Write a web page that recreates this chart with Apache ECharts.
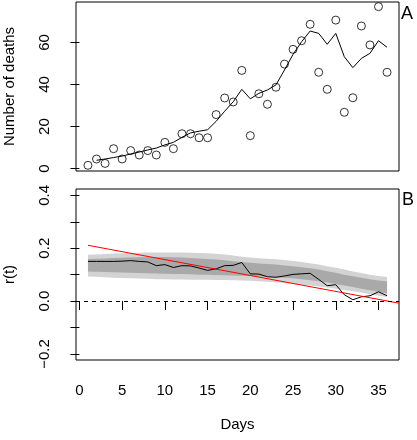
<!DOCTYPE html>
<html><head><meta charset="utf-8">
<script src="https://cdn.jsdelivr.net/npm/echarts@6/dist/echarts.min.js"></script>
<style>html,body{margin:0;padding:0;background:#fff}#c{width:417px;height:440px}</style>
</head><body><div id="c"></div>
<script>
const days = [1,2,3,4,5,6,7,8,9,10,11,12,13,14,15,16,17,18,19,20,21,22,23,24,25,26,27,28,29,30,31,32,33,34,35,36];
const deaths = [1.6,4.6,2.5,9.5,4.6,8.6,6.5,8.6,6.5,12.5,9.5,16.6,16.6,14.7,14.7,25.7,33.6,31.7,46.7,15.7,35.6,30.6,38.7,49.7,56.7,60.8,68.6,45.8,37.7,70.6,26.8,33.7,67.8,58.8,77.0,45.8];
const fitted = [null,4.0,4.6,5.3,6.0,7.0,7.9,8.9,9.8,11.3,12.5,14.9,17.0,17.8,18.5,22.5,27.3,31.8,37.7,33.2,35.8,37.4,39.8,46.9,54.3,60.3,65.4,64.3,59.1,64.3,53.2,48.0,52.4,54.8,60.8,57.7];
const rt = [0.150,0.150,0.150,0.150,0.151,0.153,0.150,0.148,0.134,0.138,0.127,0.134,0.133,0.125,0.116,0.122,0.134,0.135,0.146,0.103,0.102,0.092,0.090,0.095,0.101,0.103,0.105,0.082,0.058,0.062,0.024,0.005,0.016,0.020,0.035,0.020];
const hi95 = [0.175,0.176,0.178,0.180,0.181,0.182,0.183,0.184,0.184,0.184,0.184,0.184,0.183,0.182,0.181,0.179,0.176,0.172,0.168,0.165,0.162,0.160,0.158,0.155,0.152,0.148,0.143,0.138,0.132,0.126,0.119,0.112,0.106,0.100,0.095,0.091];
const hi50 = [0.159,0.160,0.161,0.163,0.164,0.165,0.166,0.167,0.167,0.167,0.166,0.165,0.163,0.161,0.159,0.157,0.154,0.151,0.148,0.145,0.142,0.140,0.138,0.135,0.132,0.128,0.124,0.119,0.113,0.107,0.100,0.094,0.088,0.083,0.078,0.074];
const lo50 = [0.112,0.111,0.110,0.109,0.108,0.107,0.106,0.105,0.104,0.103,0.102,0.102,0.101,0.100,0.100,0.099,0.098,0.097,0.096,0.095,0.093,0.092,0.090,0.088,0.086,0.083,0.079,0.075,0.070,0.065,0.059,0.053,0.047,0.041,0.035,0.030];
const lo95 = [0.093,0.092,0.090,0.088,0.087,0.086,0.085,0.084,0.083,0.083,0.082,0.082,0.081,0.081,0.081,0.080,0.080,0.079,0.078,0.077,0.075,0.073,0.071,0.068,0.065,0.062,0.059,0.055,0.051,0.047,0.042,0.037,0.032,0.026,0.020,0.015];
const trendDays = [1, 37.4];
const trendR = [0.211, -0.008];
const xTicks = [0,5,10,15,20,25,30,35];
const yTopTicks = [0,20,40,60];
const yBotTicks = [-0.2,-0.1,0,0.1,0.2,0.3,0.4];
const yBotLabels = [-0.2,0,0.2,0.4];

const FONT = '"Liberation Sans", Arial, Helvetica, sans-serif';
const FS = 15;
const pairs = (xs, ys) => xs.map((x, i) => [x, ys[i]]);

function band(lo, hi, color) {
  return {
    type: 'custom', xAxisIndex: 1, yAxisIndex: 1, silent: true, z: 1,
    data: [[days[0], lo[0]]],
    renderItem: function (params, api) {
      const pts = [];
      for (let i = 0; i < days.length; i++) pts.push(api.coord([days[i], hi[i]]));
      for (let i = days.length - 1; i >= 0; i--) pts.push(api.coord([days[i], lo[i]]));
      return { type: 'polygon', shape: { points: pts }, style: { fill: color, stroke: null } };
    }
  };
}

const chart = echarts.init(document.getElementById('c'), null, { renderer: 'canvas' });
chart.setOption({
  animation: false,
  backgroundColor: '#fff',
  textStyle: { fontFamily: FONT },
  grid: [
    { left: 76, top: 2, width: 323, height: 169, show: true, borderColor: '#000', borderWidth: 1, backgroundColor: 'transparent', containLabel: false, outerBoundsMode: 'none' },
    { left: 76, top: 189, width: 323, height: 171, show: true, borderColor: '#000', borderWidth: 1, backgroundColor: 'transparent', containLabel: false, outerBoundsMode: 'none' }
  ],
  xAxis: [
    { type: 'value', gridIndex: 0, min: -0.4, max: 37.4, axisLine: { show: false }, axisTick: { show: false }, axisLabel: { show: false }, splitLine: { show: false } },
    { type: 'value', gridIndex: 1, min: -0.4, max: 37.4,
      name: 'Days', nameLocation: 'middle', nameGap: 57,
      nameTextStyle: { color: '#000', fontSize: FS, fontFamily: FONT },
      axisLine: { show: false },
      axisTick: { show: true, customValues: xTicks, length: 9, lineStyle: { color: '#000', width: 1 } },
      axisLabel: { show: true, customValues: xTicks, margin: 23, color: '#000', fontSize: FS, fontFamily: FONT },
      splitLine: { show: false } }
  ],
  yAxis: [
    { type: 'value', gridIndex: 0, min: -1.1, max: 79.2,
      name: 'Number of deaths', nameLocation: 'middle', nameGap: 59, nameRotate: 90,
      nameTextStyle: { color: '#000', fontSize: FS, fontFamily: FONT },
      axisLine: { show: false },
      axisTick: { show: true, customValues: yTopTicks, length: 9, lineStyle: { color: '#000', width: 1 } },
      axisLabel: { show: true, customValues: yTopTicks, rotate: 90, margin: 24, color: '#000', fontSize: FS, fontFamily: FONT },
      splitLine: { show: false } },
    { type: 'value', gridIndex: 1, min: -0.223, max: 0.424,
      name: 'r(t)', nameLocation: 'middle', nameGap: 59, nameRotate: 90,
      nameTextStyle: { color: '#000', fontSize: FS, fontFamily: FONT },
      axisLine: { show: false },
      axisTick: { show: true, customValues: yBotTicks, length: 9, lineStyle: { color: '#000', width: 1 } },
      axisLabel: { show: true, customValues: yBotLabels, rotate: 90, margin: 24, color: '#000', fontSize: FS, fontFamily: FONT,
        formatter: v => v.toFixed(1).replace('-', '\u2212') },
      splitLine: { show: false } }
  ],
  graphic: [
    { type: 'text', left: 401, top: 5, style: { text: 'A', fontSize: 18, fontFamily: FONT, fill: '#000' } },
    { type: 'text', left: 402, top: 191, style: { text: 'B', fontSize: 18, fontFamily: FONT, fill: '#000' } }
  ],
  series: [
    { type: 'line', xAxisIndex: 0, yAxisIndex: 0, data: pairs(days, fitted), showSymbol: false, connectNulls: false,
      lineStyle: { color: '#000', width: 1 }, z: 2, silent: true },
    { type: 'scatter', xAxisIndex: 0, yAxisIndex: 0, data: pairs(days, deaths), symbol: 'circle', symbolSize: 8,
      itemStyle: { color: 'transparent', borderColor: '#000', borderWidth: 1 }, z: 3, silent: true },
    band(lo95, hi95, '#d3d3d3'),
    band(lo50, hi50, '#a9a9a9'),
    { type: 'line', xAxisIndex: 1, yAxisIndex: 1, data: pairs(days, rt), showSymbol: false,
      lineStyle: { color: '#000', width: 1 }, z: 3, silent: true,
      markLine: { silent: true, symbol: 'none', label: { show: false },
        lineStyle: { color: '#000', width: 1, type: [4, 4] }, data: [{ yAxis: 0 }] } },
    { type: 'line', xAxisIndex: 1, yAxisIndex: 1, data: pairs(trendDays, trendR), showSymbol: false,
      lineStyle: { color: '#ff0000', width: 1 }, z: 4, silent: true }
  ]
});
</script></body></html>
